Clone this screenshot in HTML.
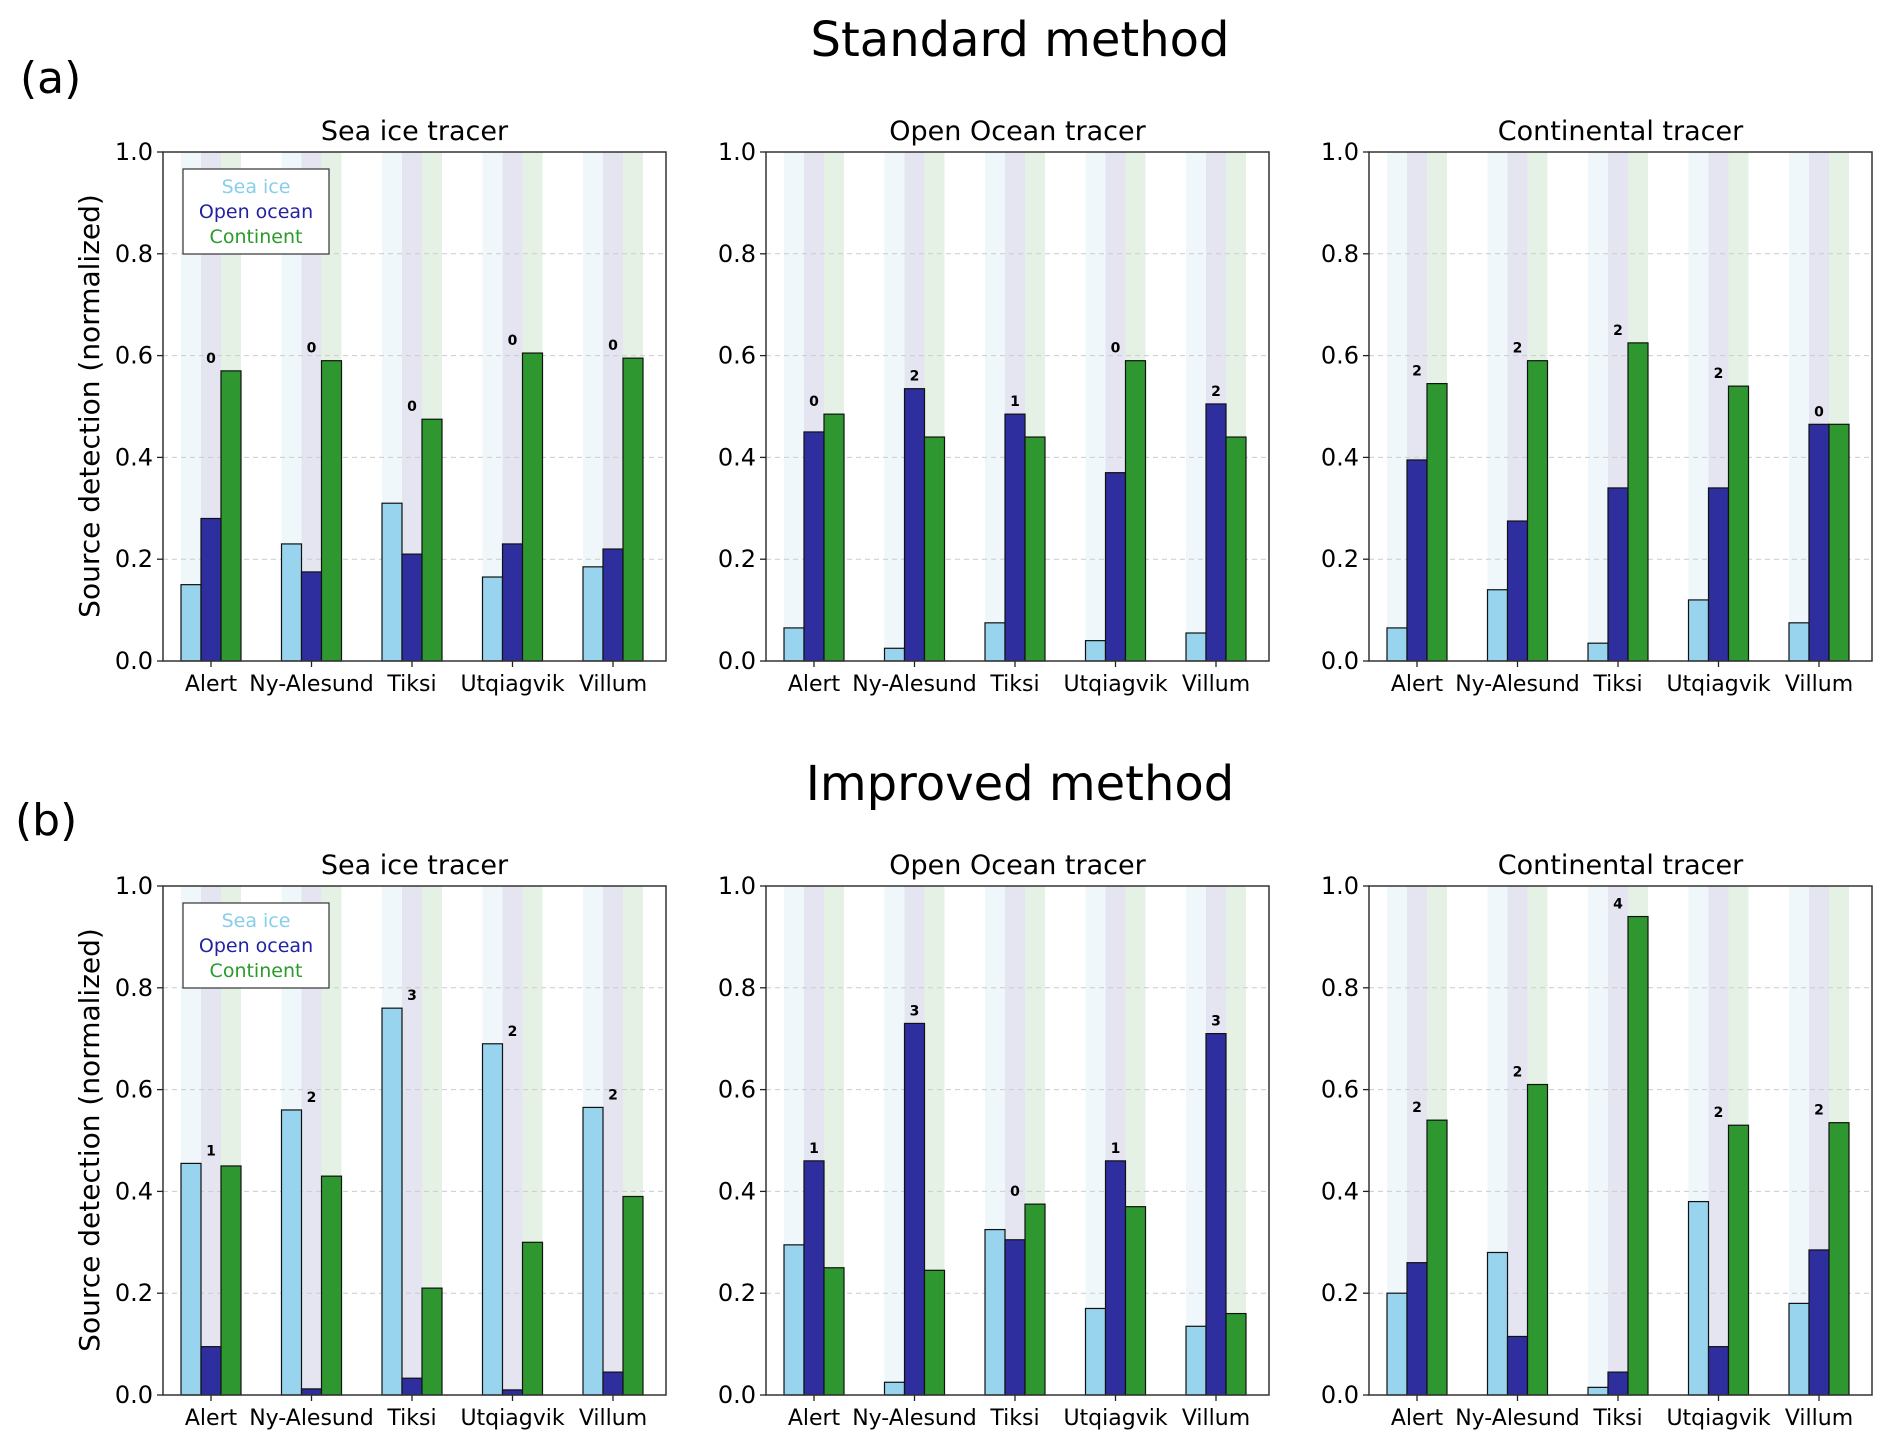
<!DOCTYPE html>
<html><head><meta charset="utf-8"><style>
body{margin:0;background:#fff;}
svg{display:block;font-family:"DejaVu Sans","Liberation Sans",sans-serif;}
</style></head><body>
<svg id="fig" width="1892" height="1445" viewBox="0 0 1892 1445" xmlns="http://www.w3.org/2000/svg">
<text x="1020" y="56" font-size="48" text-anchor="middle">Standard method</text>
<text x="20" y="93" font-size="44">(a)</text>
<text x="1020" y="800" font-size="48" text-anchor="middle">Improved method</text>
<text x="15" y="835" font-size="44">(b)</text>
<text transform="translate(99,406) rotate(-90)" font-size="28" text-anchor="middle">Source detection (normalized)</text>
<text transform="translate(99,1140) rotate(-90)" font-size="28" text-anchor="middle">Source detection (normalized)</text>
</svg>
<script>
const stations = ["Alert","Ny-Alesund","Tiksi","Utqiagvik","Villum"];
const subTitles = ["Sea ice tracer","Open Ocean tracer","Continental tracer"];
const yTicks = [0.0,0.2,0.4,0.6,0.8,1.0];
// Standard method
const stdSeaIce_sea = [0.15,0.23,0.31,0.165,0.185];
const stdSeaIce_ocean = [0.28,0.175,0.21,0.23,0.22];
const stdSeaIce_cont = [0.57,0.59,0.475,0.605,0.595];
const stdSeaIce_cnt = [0,0,0,0,0];
const stdOcean_sea = [0.065,0.025,0.075,0.04,0.055];
const stdOcean_ocean = [0.45,0.535,0.485,0.37,0.505];
const stdOcean_cont = [0.485,0.44,0.44,0.59,0.44];
const stdOcean_cnt = [0,2,1,0,2];
const stdCont_sea = [0.065,0.14,0.035,0.12,0.075];
const stdCont_ocean = [0.395,0.275,0.34,0.34,0.465];
const stdCont_cont = [0.545,0.59,0.625,0.54,0.465];
const stdCont_cnt = [2,2,2,2,0];
// Improved method
const impSeaIce_sea = [0.455,0.56,0.76,0.69,0.565];
const impSeaIce_ocean = [0.095,0.012,0.033,0.01,0.045];
const impSeaIce_cont = [0.45,0.43,0.21,0.30,0.39];
const impSeaIce_cnt = [1,2,3,2,2];
const impOcean_sea = [0.295,0.025,0.325,0.17,0.135];
const impOcean_ocean = [0.46,0.73,0.305,0.46,0.71];
const impOcean_cont = [0.25,0.245,0.375,0.37,0.16];
const impOcean_cnt = [1,3,0,1,3];
const impCont_sea = [0.20,0.28,0.015,0.38,0.18];
const impCont_ocean = [0.26,0.115,0.045,0.095,0.285];
const impCont_cont = [0.54,0.61,0.94,0.53,0.535];
const impCont_cnt = [2,2,4,2,2];

const NS="http://www.w3.org/2000/svg";
const svg=document.getElementById('fig');
function el(tag,attrs,parent){const e=document.createElementNS(NS,tag);for(const k in attrs)e.setAttribute(k,attrs[k]);(parent||svg).appendChild(e);return e;}
const barCols=["#98d4ee","#2e2e9e","#2f972f"];
const bgCols=["#eff7fa","#e5e5f2","#e6f1e6"];
const panelsX=[163,766,1369], W=503;
const rows=[{top:152,bot:661,data:[[stdSeaIce_sea,stdSeaIce_ocean,stdSeaIce_cont,stdSeaIce_cnt],[stdOcean_sea,stdOcean_ocean,stdOcean_cont,stdOcean_cnt],[stdCont_sea,stdCont_ocean,stdCont_cont,stdCont_cnt]],tag:'a'},
 {top:886,bot:1395,data:[[impSeaIce_sea,impSeaIce_ocean,impSeaIce_cont,impSeaIce_cnt],[impOcean_sea,impOcean_ocean,impOcean_cont,impOcean_cnt],[impCont_sea,impCont_ocean,impCont_cont,impCont_cnt]],tag:'b'}];
const bw=20;
rows.forEach(r=>{
 r.data.forEach((d,pi)=>{
  const x0=panelsX[pi];
  const g=el('g',{});
  
  
  const xs=i=>x0+48+i*100.5;
  const ys=v=>r.bot-(r.bot-r.top)*v;
  stations.forEach((s,i)=>{for(let k=0;k<3;k++){
    const b=el('rect',{x:xs(i)-30+k*bw,y:r.top,width:bw,height:r.bot-r.top,fill:bgCols[k]},g);
    
    
  }});
  yTicks.forEach(t=>{
    if(t<1){const l=el('line',{x1:x0,x2:x0+W,y1:ys(t),y2:ys(t),stroke:t==0?'#888':'#ccc','stroke-dasharray':'5,4','stroke-width':1},g);
    
    }
  });
  stations.forEach((s,i)=>{
    for(let k=0;k<3;k++){const v=d[k][i];
      const b=el('rect',{x:xs(i)-30+k*bw,y:ys(v),width:bw,height:ys(0)-ys(v),fill:barCols[k],stroke:'#111','stroke-width':1.2},g);
      
      
    }
    const mx=Math.max(d[0][i],d[1][i],d[2][i]);
    const t=el('text',{x:xs(i),y:ys(mx)-8,'font-size':14,'font-weight':'bold','text-anchor':'middle'},g);
    t.textContent=d[3][i];
    
    
    el('line',{x1:xs(i),x2:xs(i),y1:r.bot,y2:r.bot+6,stroke:'#222','stroke-width':1.3},g);
    const xl=el('text',{x:xs(i),y:r.bot+30,'font-size':22,'text-anchor':'middle'},g);
    xl.textContent=s;
    
    
  });
  const f=el('rect',{x:x0,y:r.top,width:W,height:r.bot-r.top,fill:'none',stroke:'#333','stroke-width':1.5},g);
  
  
  yTicks.forEach(t=>{
    el('line',{x1:x0-6,x2:x0,y1:ys(t),y2:ys(t),stroke:'#222','stroke-width':1.3},g);
    const yl=el('text',{x:x0-10,y:ys(t)+8,'font-size':24,'text-anchor':'end'},g);
    yl.textContent=t.toFixed(1);
    
    
  });
  const tt=el('text',{x:x0+W/2,y:r.top-12,'font-size':27,'text-anchor':'middle'},g);
  tt.textContent=subTitles[pi];
  
  
  if(pi===0){
    const lg=el('g',{},g);
    
    
    el('rect',{x:183,y:r.top+17,width:146,height:85,fill:'#fff',stroke:'#333','stroke-width':1.2},lg);
    ['Sea ice','Open ocean','Continent'].forEach((n,k)=>{
      const lt=el('text',{x:256,y:r.top+41+k*25,'font-size':19,'text-anchor':'middle',fill:['#87ceeb','#2323a0','#2a9a2a'][k]},lg);
      lt.textContent=n;
      
      
    });
  }
 });
});
</script>
</body></html>
